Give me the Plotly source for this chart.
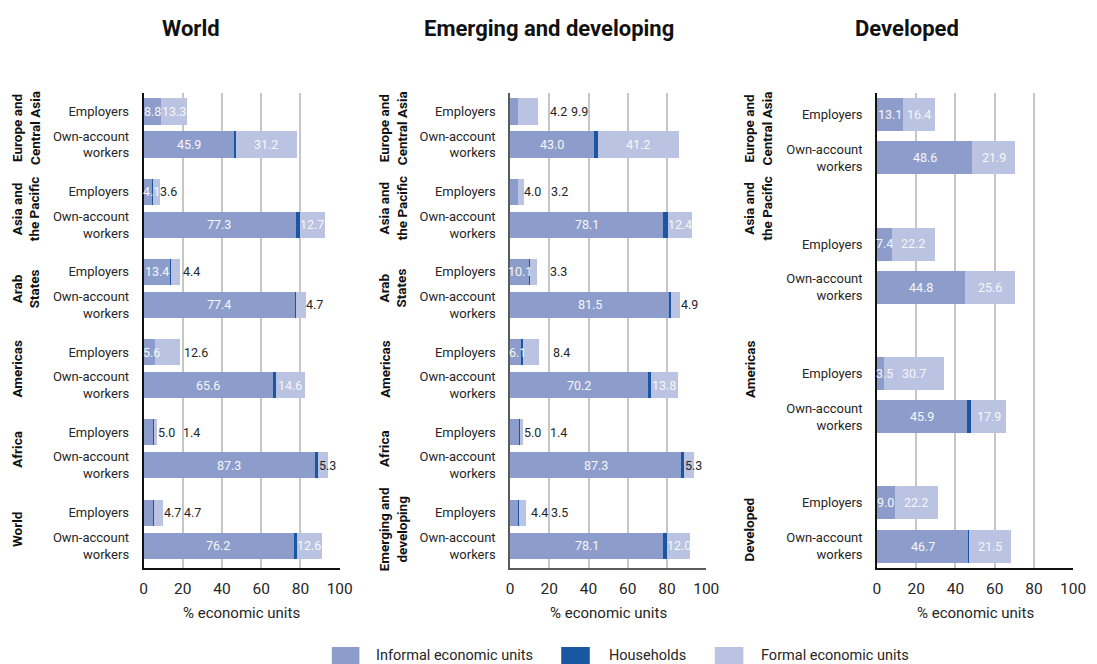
import plotly.graph_objects as go

FONT = "Roboto, Liberation Sans, Arial, sans-serif"
W, H = 1097, 664

# ---------------- data ----------------
row_labels = ["Employers", "Own-account<br>workers"]
series_names = ["Informal economic units", "Households", "Formal economic units"]
x_ticks = [0, 20, 40, 60, 80, 100]
panel_titles = ["World", "Emerging and developing", "Developed"]

world_groups = ["Europe and<br>Central Asia", "Asia and<br>the Pacific", "Arab<br>States",
                "Americas", "Africa", "World"]
world_informal = [[8.8, 45.9], [4.1, 77.3], [13.4, 77.4], [5.6, 65.6], [5.0, 87.3], [4.7, 76.2]]
world_households = [[0.0, 1.0], [0.4, 2.0], [0.3, 0.3], [0.0, 1.6], [0.3, 1.2], [0.3, 1.8]]
world_formal = [[13.3, 31.2], [3.6, 12.7], [4.4, 4.7], [12.6, 14.6], [1.4, 5.3], [4.7, 12.6]]

emerg_groups = ["Europe and<br>Central Asia", "Asia and<br>the Pacific", "Arab<br>States",
                "Americas", "Africa", "Emerging and<br>developing"]
emerg_informal = [[4.2, 43.0], [4.0, 78.1], [10.1, 81.5], [6.1, 70.2], [5.0, 87.3], [4.4, 78.1]]
emerg_households = [[0.0, 1.7], [0.0, 2.3], [0.3, 0.3], [0.3, 1.5], [0.3, 1.3], [0.3, 1.8]]
emerg_formal = [[9.9, 41.2], [3.2, 12.4], [3.3, 4.9], [8.4, 13.8], [1.4, 5.3], [3.5, 12.0]]

dev_groups = ["Europe and<br>Central Asia", "Asia and<br>the Pacific", "Americas", "Developed"]
dev_informal = [[13.1, 48.6], [7.4, 44.8], [3.5, 45.9], [9.0, 46.7]]
dev_households = [[0.0, 0.0], [0.0, 0.0], [0.0, 2.0], [0.0, 0.3]]
dev_formal = [[16.4, 21.9], [22.2, 25.6], [30.7, 17.9], [22.2, 21.5]]

# ---------------- presentation ----------------
colors = ["#8D9DCB", "#1A57A3", "#BAC3E1"]
GRID = "#C6C6C6"
DARK = "#262626"

# label placement for labels drawn outside the bars: (group, row, series) -> x centre
world_outside = {(1, 0, 2): 12.8, (2, 0, 2): 24.5, (2, 1, 2): 87.0, (3, 0, 2): 26.5,
                 (4, 0, 0): 11.9, (4, 0, 2): 24.5, (4, 1, 2): 93.7,
                 (5, 0, 0): 14.8, (5, 0, 2): 24.8}
emerg_outside = {(0, 0, 0): 24.6, (0, 0, 2): 35.6, (1, 0, 0): 11.3, (1, 0, 2): 25.1,
                 (2, 0, 2): 24.8, (2, 1, 2): 91.3, (3, 0, 2): 26.3,
                 (4, 0, 0): 11.5, (4, 0, 2): 24.8, (4, 1, 2): 93.6,
                 (5, 0, 0): 14.9, (5, 0, 2): 25.3}
dev_outside = {}

px = lambda v: v / W
py = lambda v: 1 - v / H

panels = [
    dict(title="World", groups=world_groups,
         vals=[world_informal, world_households, world_formal],
         outside=world_outside, step=2.43, yrange=[13.83, -0.56], bw=0.79,
         dom=[141.7, 341.0], title_x=190, glabel_x=3, line="#111111",
         label_groups=list(range(6))),
    dict(title="Emerging and developing", groups=emerg_groups,
         vals=[emerg_informal, emerg_households, emerg_formal],
         outside=emerg_outside, step=2.43, yrange=[13.83, -0.56], bw=0.79,
         dom=[514.0, 713.3], title_x=554, glabel_x=376, line="#5A5A5A",
         label_groups=list(range(6))),
    dict(title="Developed", groups=dev_groups,
         vals=[dev_informal, dev_households, dev_formal],
         outside=dev_outside, step=3.0, yrange=[10.51, -0.5], bw=0.765,
         dom=[886.7, 1086.0], title_x=917, glabel_x=747, line="#111111",
         label_groups=[0, 1, 3, 5]),
]

fig = go.Figure()
annotations = []
layout_axes = {}
world_step = panels[0]["step"]

for pi, p in enumerate(panels):
    sfx = "" if pi == 0 else str(pi + 1)
    xa, ya = "x" + sfx, "y" + sfx
    ng = len(p["groups"])
    ypos = [[g * p["step"] + r for r in range(2)] for g in range(ng)]
    flat_y = [ypos[g][r] for g in range(ng) for r in range(2)]
    for s in range(3):
        flat_x = [p["vals"][s][g][r] for g in range(ng) for r in range(2)]
        fig.add_trace(go.Bar(
            x=flat_x, y=flat_y, orientation="h", width=p["bw"],
            marker=dict(color=colors[s], line=dict(width=0)),
            name=series_names[s], showlegend=False,
            xaxis=xa, yaxis=ya, hoverinfo="x+name"))
    # data labels
    for g in range(ng):
        for r in range(2):
            start = 0.0
            for s in range(3):
                v = p["vals"][s][g][r]
                if s != 1:
                    txt = f"{v:.1f}"
                    key = (g, r, s)
                    if key in p["outside"]:
                        annotations.append(dict(
                            x=p["outside"][key], y=ypos[g][r], xref=xa, yref=ya,
                            text=txt, showarrow=False, xanchor="center", yanchor="middle",
                            font=dict(family=FONT, size=12.5, color=DARK)))
                    else:
                        half = len(txt) * 1.3
                        cx = max(start + v / 2, half)
                        annotations.append(dict(
                            x=cx, y=ypos[g][r], xref=xa, yref=ya,
                            text=txt, showarrow=False, xanchor="center", yanchor="middle",
                            font=dict(family=FONT, size=12.5, color="#F7F7F7")))
                start += v
    # group labels (positioned on the shared group grid of the first panel)
    for gi, g in enumerate(p["label_groups"]):
        annotations.append(dict(
            x=px(p["glabel_x"]), xref="paper", y=g * world_step + 0.5, yref="y",
            text="<b>" + p["groups"][gi] + "</b>", textangle=-90, showarrow=False,
            xanchor="left", yanchor="middle", align="center",
            font=dict(family=FONT, size=13.5, color="#111111")))
    # title
    annotations.append(dict(
        x=px(p["title_x"]), y=py(29), xref="paper", yref="paper",
        text="<b>" + p["title"] + "</b>", showarrow=False,
        xanchor="center", yanchor="middle",
        font=dict(family=FONT, size=22, color="#111111")))
    # x axis title
    annotations.append(dict(
        x=px((p["dom"][0] + p["dom"][1]) / 2), y=py(613), xref="paper", yref="paper",
        text="% economic units", showarrow=False, xanchor="center", yanchor="middle",
        font=dict(family=FONT, size=15, color=DARK)))

    layout_axes["xaxis" + sfx] = dict(
        domain=[px(p["dom"][0]), px(p["dom"][1])], range=[0, 100], anchor=ya,
        tickvals=x_ticks, ticktext=[str(t) for t in x_ticks],
        showgrid=True, gridcolor=GRID, gridwidth=1.5, zeroline=False,
        showline=True, linecolor=p["line"], linewidth=1.6,
        ticks="outside", ticklen=6, tickcolor="rgba(0,0,0,0)",
        tickfont=dict(family=FONT, size=15.5, color=DARK), fixedrange=True)
    layout_axes["yaxis" + sfx] = dict(
        domain=[py(568), py(93)], range=p["yrange"], anchor=xa,
        tickvals=flat_y, ticktext=[row_labels[r] for g in range(ng) for r in range(2)],
        showgrid=False, zeroline=False,
        showline=True, linecolor=p["line"], linewidth=1.6,
        ticks="outside", ticklen=10, tickcolor="rgba(0,0,0,0)",
        tickfont=dict(family=FONT, size=13, color=DARK), fixedrange=True)

# manual legend
legend_items = [(333, 361, 376), (566, 595, 612), (722, 751, 767)]
shapes = []
for s, (x0, x1, tx) in enumerate(legend_items):
    shapes.append(dict(type="rect", xref="paper", yref="paper",
                       x0=px(x0), x1=px(x1), y0=py(664), y1=py(647),
                       fillcolor=colors[s], line=dict(width=0)))
    annotations.append(dict(x=px(tx), y=py(655.5), xref="paper", yref="paper",
                            text=series_names[s], showarrow=False,
                            xanchor="left", yanchor="middle",
                            font=dict(family=FONT, size=14.5, color=DARK)))

fig.update_layout(
    width=W, height=H, autosize=False,
    margin=dict(l=0, r=0, t=0, b=0),
    paper_bgcolor="white", plot_bgcolor="white",
    barmode="stack", bargap=0, showlegend=False,
    font=dict(family=FONT, color=DARK),
    annotations=annotations, shapes=shapes,
    **layout_axes)

fig.write_html("out.html", config={"displayModeBar": False},
               post_script="document.body.style.margin='0';document.body.style.overflow='hidden';")
